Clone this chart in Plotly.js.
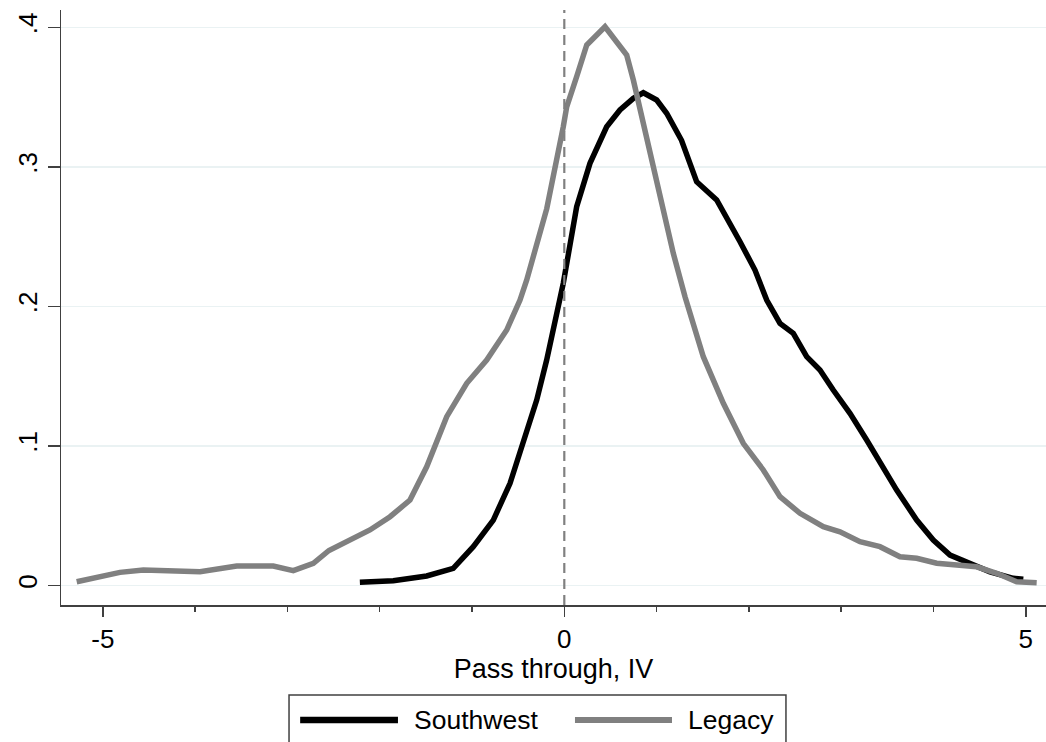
<!DOCTYPE html>
<html>
<head>
<meta charset="utf-8">
<script src="https://cdn.plot.ly/plotly-3.0.1.min.js"></script>
<style>html,body{margin:0;padding:0;background:#fff;}#chart{width:1046px;height:742px;}</style>
</head>
<body>
<div id="chart"></div>
<script>
// Series names
const seriesNames = ["Southwest", "Legacy"];

// Southwest kernel density (black)
const southwestX = [-2.215, -1.853, -1.491, -1.203, -0.986, -0.769, -0.588, -0.444, -0.299, -0.191, -0.082, -0.011, 0.134, 0.278, 0.459, 0.603, 0.748, 0.856, 1.001, 1.109, 1.27, 1.434, 1.651, 1.759, 1.904, 2.066, 2.193, 2.337, 2.481, 2.626, 2.770, 2.914, 3.095, 3.276, 3.601, 3.818, 3.998, 4.179, 4.395, 4.612, 4.865, 4.973];
const southwestY = [0.0022, 0.0033, 0.0067, 0.0122, 0.0277, 0.0468, 0.0731, 0.1018, 0.1328, 0.1615, 0.1925, 0.2165, 0.2714, 0.3025, 0.3287, 0.3407, 0.3491, 0.3531, 0.3479, 0.3384, 0.3190, 0.2893, 0.2762, 0.2642, 0.2463, 0.2260, 0.2045, 0.1878, 0.1806, 0.1639, 0.1543, 0.1400, 0.1233, 0.1042, 0.0683, 0.0468, 0.0325, 0.0217, 0.0158, 0.0097, 0.0050, 0.0043];

// Legacy kernel density (gray)
const legacyX = [-5.283, -4.814, -4.561, -3.947, -3.549, -3.153, -2.936, -2.719, -2.55, -2.398, -2.106, -1.888, -1.672, -1.491, -1.382, -1.274, -1.057, -0.841, -0.624, -0.480, -0.407, -0.299, -0.19, -0.011, 0.026, 0.134, 0.243, 0.441, 0.676, 0.748, 0.893, 1.037, 1.181, 1.308, 1.506, 1.723, 1.939, 2.156, 2.337, 2.554, 2.806, 2.987, 3.204, 3.420, 3.637, 3.818, 4.035, 4.468, 4.685, 4.901, 5.118];
const legacyY = [0.0026, 0.0093, 0.0110, 0.0098, 0.0138, 0.0138, 0.0105, 0.0158, 0.0250, 0.0303, 0.0397, 0.0492, 0.0611, 0.0850, 0.1018, 0.1209, 0.1448, 0.1615, 0.1830, 0.2045, 0.2189, 0.2452, 0.2700, 0.3287, 0.3430, 0.3646, 0.3873, 0.4004, 0.3801, 0.3622, 0.3192, 0.2762, 0.2380, 0.2069, 0.1639, 0.1305, 0.1018, 0.0827, 0.0635, 0.0516, 0.0420, 0.0384, 0.0313, 0.0277, 0.0205, 0.0194, 0.0158, 0.0133, 0.0086, 0.0026, 0.0019];

// Axis ticks
const xTickVals = [-5, 0, 5];
const xTickText = ["-5", "0", "5"];
const yTickVals = [0, 0.1, 0.2, 0.3, 0.4];
const yTickText = ["0", ".1", ".2", ".3", ".4"];
const xTitle = "Pass through, IV";
const refLineX = 0;

const FONT = "Arial, 'Liberation Sans', sans-serif";
const colors = ["#000000", "#808080"];

const traces = [
  {x: southwestX, y: southwestY, name: seriesNames[0], type: "scatter", mode: "lines",
   line: {color: colors[0], width: 5.5}, showlegend: false, hoverinfo: "skip"},
  {x: legacyX, y: legacyY, name: seriesNames[1], type: "scatter", mode: "lines",
   line: {color: colors[1], width: 5.5}, showlegend: false, hoverinfo: "skip"}
];

// Custom Stata-style legend below the plot (paper coordinates)
const legTop = -0.1513, legBottom = -0.26;
const legLineY = -0.1933;
const legendShapes = [
  {type: "rect", xref: "paper", yref: "paper", x0: 0.2315, x1: 0.7360, y0: legBottom, y1: legTop,
   line: {color: "#404040", width: 1.5}, fillcolor: "rgba(0,0,0,0)"},
  {type: "line", xref: "paper", yref: "paper", x0: 0.2428, x1: 0.3421, y0: legLineY, y1: legLineY,
   line: {color: colors[0], width: 6.5}},
  {type: "line", xref: "paper", yref: "paper", x0: 0.5218, x1: 0.6203, y0: legLineY, y1: legLineY,
   line: {color: colors[1], width: 6}}
];
const legendAnn = [
  {xref: "paper", yref: "paper", x: 0.3560, y: legLineY, xanchor: "left", yanchor: "middle",
   text: seriesNames[0], showarrow: false, font: {family: FONT, size: 26.5, color: "#000"}},
  {xref: "paper", yref: "paper", x: 0.6350, y: legLineY, xanchor: "left", yanchor: "middle",
   text: seriesNames[1], showarrow: false, font: {family: FONT, size: 26.5, color: "#000"}}
];

const layout = {
  width: 1046, height: 742,
  margin: {l: 61, r: 0, t: 10, b: 137, pad: 0},
  paper_bgcolor: "#ffffff", plot_bgcolor: "#ffffff",
  font: {family: FONT, size: 26, color: "#000"},
  showlegend: false,
  xaxis: {
    range: [-5.453, 5.219], tickmode: "array", tickvals: xTickVals, ticktext: xTickText,
    ticks: "outside", ticklen: 10, tickwidth: 1.5, tickcolor: "#404040",
    minor: {dtick: 1, tick0: 0, ticks: "outside", ticklen: 5, tickwidth: 1.5, tickcolor: "#404040", showgrid: false},
    showline: true, linecolor: "#404040", linewidth: 1.5, showgrid: false, zeroline: false,
    tickfont: {family: FONT, size: 26, color: "#000"},
    title: {text: xTitle, font: {family: FONT, size: 27, color: "#000"}, standoff: 0},
    automargin: false
  },
  yaxis: {
    range: [-0.0141, 0.4124], tickmode: "array", tickvals: yTickVals, ticktext: yTickText,
    ticks: "outside", ticklen: 12, tickwidth: 1.5, tickcolor: "#404040", tickangle: -90,
    showline: true, linecolor: "#404040", linewidth: 1.5,
    showgrid: true, gridcolor: "#eaf2f3", gridwidth: 1.5, zeroline: false,
    tickfont: {family: FONT, size: 26, color: "#000"},
    automargin: false
  },
  shapes: [
    {type: "line", xref: "x", yref: "paper", x0: refLineX, x1: refLineX, y0: 0, y1: 1,
     line: {color: "#808080", width: 2.2, dash: "10px,6px"}}
  ].concat(legendShapes),
  annotations: legendAnn
};

Plotly.newPlot("chart", traces, layout, {staticPlot: true, displayModeBar: false});
</script>
</body>
</html>
